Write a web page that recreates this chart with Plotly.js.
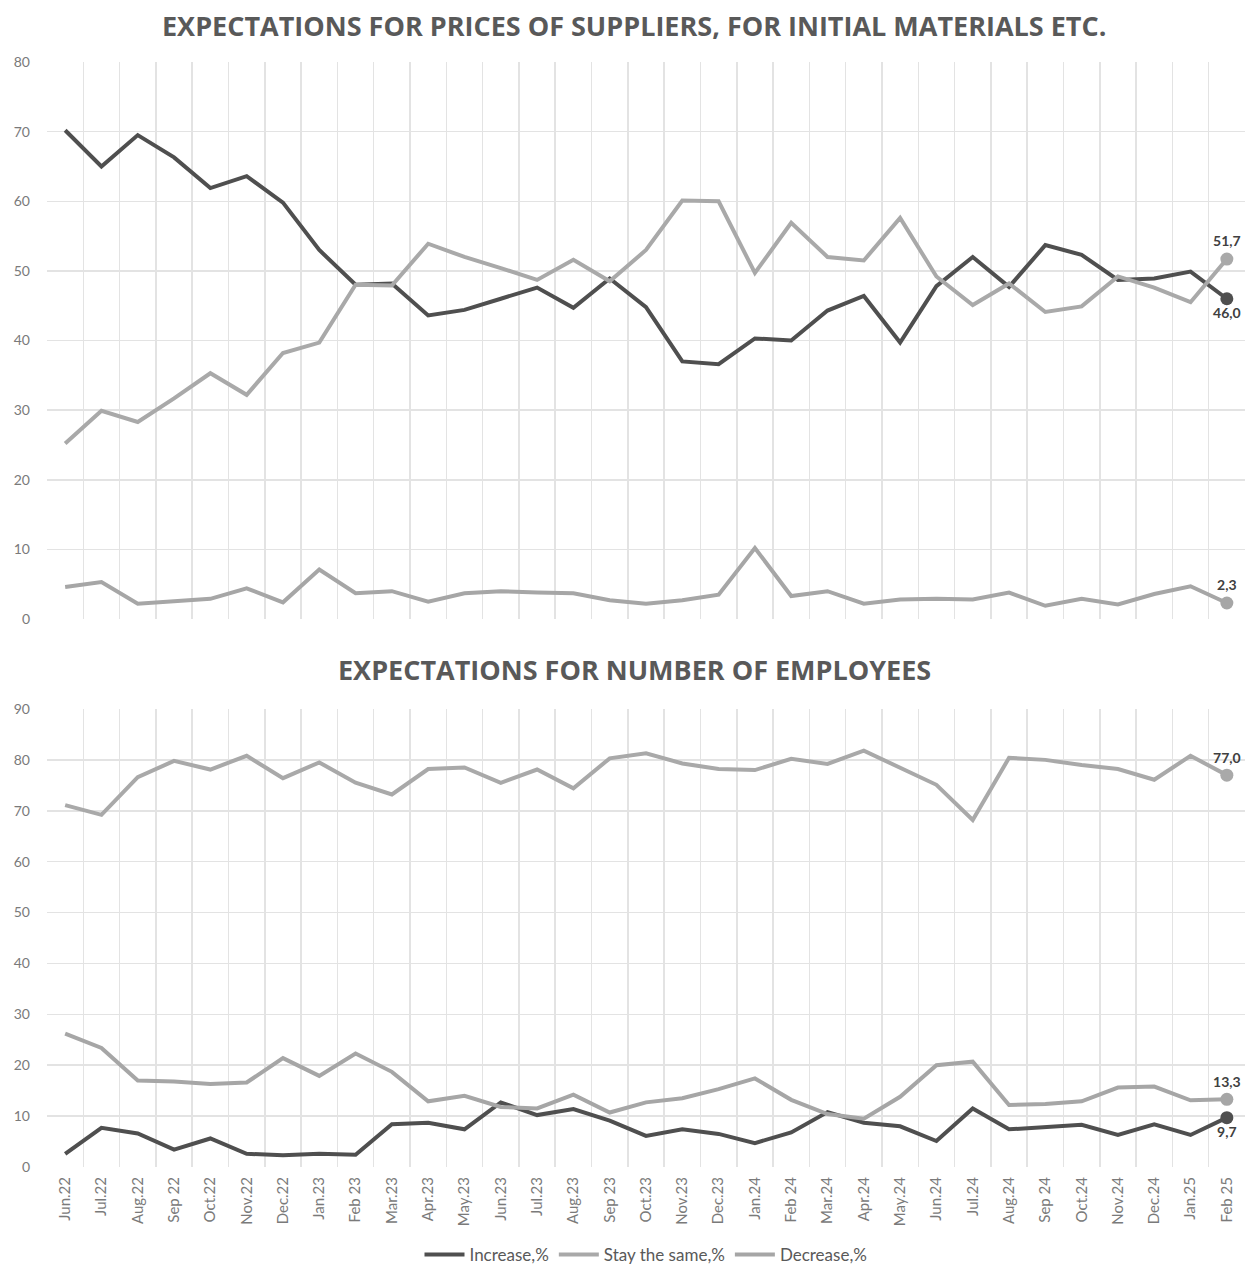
<!DOCTYPE html>
<html>
<head>
<meta charset="utf-8">
<script src="https://cdn.plot.ly/plotly-3.0.1.min.js"></script>
<style>html,body{margin:0;padding:0;background:#fff;}#chart{width:1253px;height:1268px;}</style>
</head>
<body>
<div id="chart"></div>
<script>
const months = ["Jun.22","Jul.22","Aug.22","Sep 22","Oct.22","Nov.22","Dec.22","Jan.23","Feb 23","Mar.23","Apr.23","May.23","Jun.23","Jul.23","Aug.23","Sep 23","Oct.23","Nov.23","Dec.23","Jan.24","Feb 24","Mar.24","Apr.24","May.24","Jun.24","Jul.24","Aug.24","Sep 24","Oct.24","Nov.24","Dec.24","Jan.25","Feb 25"];

const pricesIncrease = [70.2,65.0,69.5,66.3,61.9,63.6,59.8,53.0,48.0,48.2,43.6,44.4,46.0,47.6,44.7,48.9,44.8,37.0,36.6,40.3,40.0,44.3,46.4,39.7,47.8,52.0,47.7,53.7,52.3,48.7,48.9,49.9,46.0];
const pricesSame     = [25.2,29.9,28.3,31.7,35.3,32.2,38.2,39.7,48.0,47.9,53.9,52.0,50.4,48.7,51.6,48.5,53.0,60.1,60.0,49.7,56.9,52.0,51.5,57.6,49.2,45.1,48.2,44.1,44.9,49.2,47.6,45.5,51.7];
const pricesDecrease = [4.6,5.3,2.2,2.5,2.9,4.4,2.4,7.1,3.7,4.0,2.5,3.7,4.0,3.8,3.7,2.7,2.2,2.7,3.5,10.2,3.3,4.0,2.2,2.8,2.9,2.8,3.8,1.9,2.9,2.1,3.6,4.7,2.3];

const empIncrease = [2.6,7.7,6.6,3.4,5.6,2.6,2.3,2.6,2.4,8.4,8.7,7.4,12.7,10.2,11.4,9.1,6.1,7.4,6.5,4.7,6.8,10.8,8.7,8.0,5.1,11.5,7.4,7.9,8.3,6.3,8.4,6.3,9.7];
const empSame     = [71.1,69.2,76.6,79.8,78.1,80.8,76.4,79.5,75.5,73.2,78.2,78.5,75.5,78.1,74.4,80.3,81.3,79.3,78.2,78.0,80.2,79.2,81.8,78.5,75.1,68.2,80.4,80.0,79.0,78.2,76.1,80.8,77.0];
const empDecrease = [26.2,23.4,17.0,16.8,16.3,16.6,21.4,17.9,22.3,18.7,12.9,14.0,11.8,11.5,14.2,10.7,12.7,13.5,15.3,17.4,13.2,10.4,9.5,13.8,20.0,20.7,12.2,12.4,12.9,15.6,15.8,13.1,13.3];

const seriesNames = ["Increase,%","Stay the same,%","Decrease,%"];
const chartTitles = ["EXPECTATIONS FOR PRICES OF SUPPLIERS, FOR INITIAL MATERIALS ETC.","EXPECTATIONS FOR NUMBER OF EMPLOYEES"];

const DARK = "#4f4f4f", LIGHT = "#a9a9a9", LIGHT2 = "#a6a6a6";
const colors = [DARK, LIGHT, LIGHT2];
const fmt = v => v.toFixed(1).replace(".", ",");

const traces = [];
function addSeries(vals, idx, xa, ya, showLegend, labelPos) {
  traces.push({
    x: months, y: vals, xaxis: xa, yaxis: ya, type: "scatter", mode: "lines",
    name: seriesNames[idx], legendgroup: "g" + idx, showlegend: showLegend,
    line: {color: colors[idx], width: 4}, hoverinfo: "y"
  });
  const n = vals.length - 1;
  traces.push({
    x: [months[n]], y: [vals[n]], xaxis: xa, yaxis: ya, type: "scatter", mode: "markers+text",
    legendgroup: "g" + idx, showlegend: false,
    marker: {color: colors[idx], size: 13},
    text: [fmt(vals[n])], textposition: labelPos,
    textfont: {family: "Lato, 'Open Sans', sans-serif", size: 14, color: "#404040", weight: "bold"},
    cliponaxis: false, hoverinfo: "y"
  });
}
addSeries(pricesIncrease, 0, "x2", "y2", true, "bottom center");
addSeries(pricesSame, 1, "x2", "y2", true, "top center");
addSeries(pricesDecrease, 2, "x2", "y2", true, "top center");
addSeries(empIncrease, 0, "x", "y", false, "bottom center");
addSeries(empSame, 1, "x", "y", false, "top center");
addSeries(empDecrease, 2, "x", "y", false, "top center");

const gridC = "#e3e3e3";
const tickFont = {family: "Lato, 'Open Sans', sans-serif", size: 14, color: "#7a7a7a"};
const xTickFont = {family: "Lato, 'Open Sans', sans-serif", size: 15, color: "#7a7a7a"};
const xBase = {
  type: "category", tickson: "boundaries", showgrid: true, gridcolor: gridC, gridwidth: 1.5,
  ticks: "", zeroline: false, showline: false, range: [-0.5, months.length - 0.5],
  fixedrange: true, automargin: false
};
const layout = {
  width: 1253, height: 1268,
  paper_bgcolor: "#ffffff", plot_bgcolor: "#ffffff",
  margin: {l: 47, r: 8, t: 62, b: 101, autoexpand: false},
  showlegend: true,
  legend: {orientation: "h", x: 0.5, xanchor: "center", yref: "container", y: 0.0103, yanchor: "middle",
    font: {family: "Lato, 'Open Sans', sans-serif", size: 17, color: "#595959"},
    itemwidth: 40, traceorder: "normal"},
  xaxis: Object.assign({}, xBase, {anchor: "y", tickangle: -90, tickfont: xTickFont, showticklabels: true, ticklabelstandoff: 6}),
  xaxis2: Object.assign({}, xBase, {anchor: "y2", showticklabels: false, matches: "x"}),
  yaxis: {domain: [0, 0.4145], range: [0, 90], dtick: 10, tick0: 0, showgrid: true, gridcolor: gridC, gridwidth: 1.5,
    zeroline: false, showline: false, ticks: "", tickfont: tickFont, ticklabelstandoff: 16, fixedrange: true, automargin: false},
  yaxis2: {domain: [0.4959, 1], range: [0, 80], dtick: 10, tick0: 0, showgrid: true, gridcolor: gridC, gridwidth: 1.5,
    zeroline: false, showline: false, ticks: "", tickfont: tickFont, ticklabelstandoff: 16, fixedrange: true, automargin: false},
  annotations: [
    {text: "<b>" + chartTitles[0] + "</b>", xref: "paper", yref: "paper", x: 0.49, y: 1, yanchor: "middle", yshift: 37,
      showarrow: false, font: {family: "'Open Sans', sans-serif", size: 27, color: "#595959"}},
    {text: "<b>" + chartTitles[1] + "</b>", xref: "paper", yref: "paper", x: 0.49, y: 0.4145, yanchor: "middle", yshift: 39,
      showarrow: false, font: {family: "'Open Sans', sans-serif", size: 27, color: "#595959"}}
  ]
};
Plotly.newPlot("chart", traces, layout, {displayModeBar: false, staticPlot: true});
</script>
</body>
</html>
